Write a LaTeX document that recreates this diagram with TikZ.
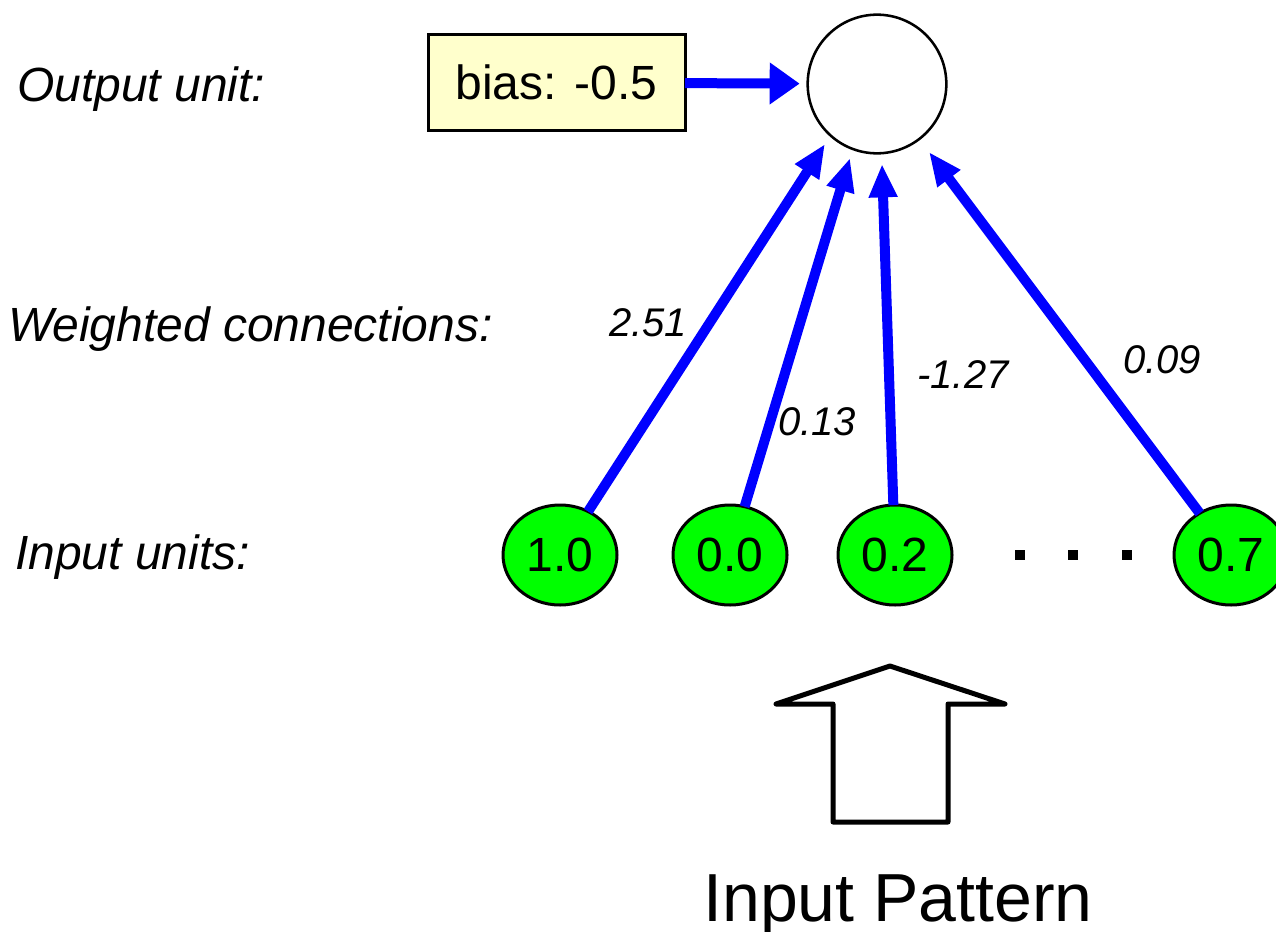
\documentclass[tikz,border=0pt]{standalone}
\usepackage{fontspec}
\setmainfont{Liberation Sans}
\usetikzlibrary{arrows.meta,shapes.geometric}
\definecolor{biasfill}{HTML}{FFFFCC}
\definecolor{unitgreen}{HTML}{00FF00}
\definecolor{wireblue}{HTML}{0000FF}
\begin{document}
\begin{tikzpicture}[x=0.75pt,y=-0.75pt,
  every node/.style={inner sep=0pt, outer sep=0pt},
  rowlabel/.style={anchor=base west, font=\fontsize{36}{40}\selectfont\itshape},
  weight/.style={font=\fontsize{30}{34}\selectfont\itshape},
  inunit/.style={ellipse, draw, line width=2.25pt, fill=unitgreen,
    minimum width=85.5pt, minimum height=75pt, font=\fontsize{36}{40}\selectfont},
  outunit/.style={circle, draw, line width=1.9pt, fill=white, minimum size=104pt},
  biasbox/.style={rectangle, draw, line width=2.25pt, fill=biasfill,
    minimum width=192.75pt, minimum height=71.25pt, font=\fontsize{36}{40}\selectfont},
  biaslink/.style={wireblue, line width=7.5pt,
    -{Triangle[length=22.5pt,width=30pt]}, shorten >=6pt},
  conn/.style={wireblue, line width=7.5pt,
    -{Triangle[length=25pt,width=20pt]}},
  dotmark/.style={rectangle, fill=black, minimum size=7.5pt},
  bigarrow/.style={draw, line width=3.75pt, line join=round, fill=white}]

\useasboundingbox (0,0) rectangle (1276,931);
\clip (0,0) rectangle (1276,931);

% row captions
\node[rowlabel] (capout) at (17,101) {Output unit:};
\node[rowlabel] (capw)   at (8,341)  {Weighted connections:};
\node[rowlabel] (capin)  at (15,569) {Input units:};

% output unit and its bias
\node[outunit] (out) at (877,84) {};
\node[biasbox] (bias) at (556.5,82.5) {bias: -0.5};

% input units
\node[inunit] (i1) at (560,555) {1.0};
\node[inunit] (i2) at (730,555) {0.0};
\node[inunit] (i3) at (895,555) {0.2};
\node[inunit] (i4) at (1231,555) {0.7};

% ellipsis between the inputs
\node[dotmark] (d1) at (1020,555) {};
\node[dotmark] (d2) at (1073,555) {};
\node[dotmark] (d3) at (1127,555) {};

% where each weighted connection meets the output unit
\coordinate (t1) at (825,144);
\coordinate (t2) at (850,158);
\coordinate (t3) at (882,164);
\coordinate (t4) at (929,152);

% connections
\draw[biaslink] (bias) -- (out);
\draw[conn] (i1) -- (t1);
\draw[conn] (i2) -- (t2);
\draw[conn] (i3) -- (t3);
\draw[conn] (i4) -- (t4);

% weights
\node[weight] (w1) at (648,323) {2.51};
\node[weight] (w2) at (817,422) {0.13};
\node[weight] (w3) at (963,375) {-1.27};
\node[weight] (w4) at (1162,360) {0.09};

% input pattern block arrow
\draw[bigarrow] (890,666) -- (1005,704) -- (948,704) -- (948,822)
  -- (833,822) -- (833,704) -- (776,704) -- cycle;
\node[anchor=base, font=\fontsize{51}{56}\selectfont] (pattern) at (898,921) {Input Pattern};
\end{tikzpicture}
\end{document}
